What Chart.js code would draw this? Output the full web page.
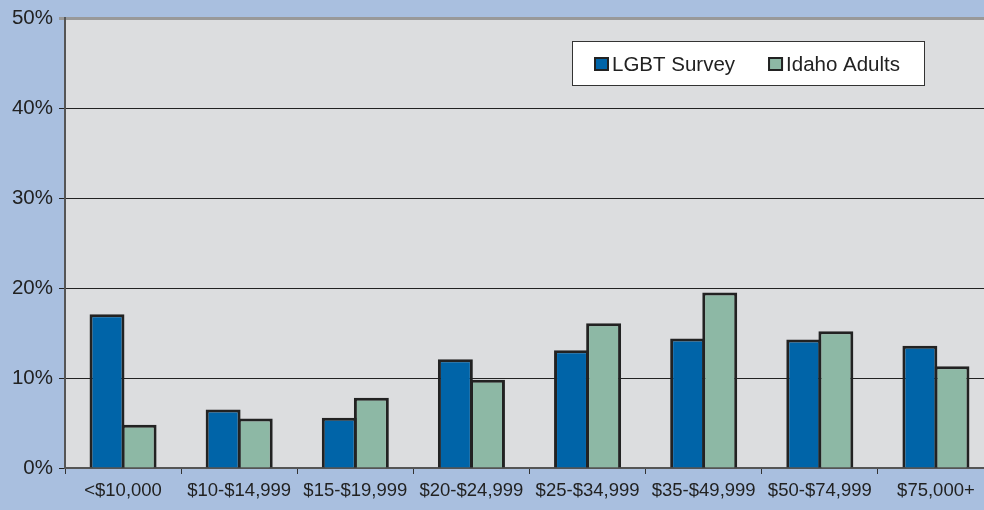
<!DOCTYPE html>
<html>
<head>
<meta charset="utf-8">
<script src="https://cdn.jsdelivr.net/npm/chart.js@4/dist/chart.umd.min.js"></script>
<style>
  html, body { margin: 0; padding: 0; background: #a9bfdf; overflow: hidden; }
  #wrap { width: 1000px; height: 510px; }
</style>
</head>
<body>
<div id="wrap"><canvas id="c" width="1000" height="510"></canvas></div>
<script>
const categories = ['<$10,000', '$10-$14,999', '$15-$19,999', '$20-$24,999', '$25-$34,999', '$35-$49,999', '$50-$74,999', '$75,000+'];
const lgbtSurvey = [17.1, 6.5, 5.6, 12.1, 13.1, 14.4, 14.3, 13.6];
const idahoAdults = [4.8, 5.5, 7.8, 9.8, 16.1, 19.5, 15.2, 11.3];
const yTicks = [0, 10, 20, 30, 40, 50];

const font = '"Liberation Sans", Arial, sans-serif';

// plot background + legend box inside the plot
const plotBg = {
    id: 'plotBg',
    beforeDraw(chart) {
        const { ctx, chartArea: a } = chart;
        ctx.save();
        ctx.fillStyle = '#dcdddf';
        ctx.fillRect(a.left, a.top, a.right - a.left, a.bottom - a.top);
        ctx.restore();
    },
    afterDraw(chart) {
        const ctx = chart.ctx;
        ctx.save();
        ctx.fillStyle = '#ffffff';
        ctx.fillRect(572, 41, 353, 45);
        ctx.strokeStyle = '#333';
        ctx.lineWidth = 1;
        ctx.strokeRect(572.5, 41.5, 352, 44);
        ctx.font = '20.5px ' + font;
        ctx.textBaseline = 'middle';
        let x = 594;
        chart.data.datasets.forEach(ds => {
            ctx.fillStyle = ds.backgroundColor;
            ctx.fillRect(x, 57, 15, 14);
            ctx.strokeStyle = '#222';
            ctx.lineWidth = 2;
            ctx.strokeRect(x + 1, 58, 13, 12);
            ctx.fillStyle = '#222';
            ctx.fillText(ds.label, x + 18, 65);
            x += 18 + ctx.measureText(ds.label).width + 33;
        });
        ctx.restore();
    }
};

new Chart(document.getElementById('c'), {
    type: 'bar',
    data: {
        labels: categories,
        datasets: [
            { label: 'LGBT Survey', data: lgbtSurvey, backgroundColor: '#0064a8', borderColor: '#222', borderWidth: 3 },
            { label: 'Idaho Adults', data: idahoAdults, backgroundColor: '#8db8a5', borderColor: '#222', borderWidth: 3 }
        ]
    },
    options: {
        responsive: false,
        animation: false,
        layout: { padding: { left: 0, top: 18, right: 6, bottom: 0 } },
        // bars overlap slightly so neighbours share one border
        datasets: { bar: { categoryPercentage: 0.553, barPercentage: 1.088 } },
        plugins: { legend: { display: false }, tooltip: { enabled: false } },
        scales: {
            x: {
                afterFit(s) { s.height = 42; },
                grid: { offset: true, drawOnChartArea: false, tickLength: 6, color: '#333', lineWidth: 1 },
                border: { color: '#555', width: 2 },
                ticks: { color: '#222', font: { family: font, size: 18.5 }, padding: 6, autoSkip: false, maxRotation: 0 }
            },
            y: {
                min: 0, max: 50,
                afterFit(s) { s.width = 65; },
                afterBuildTicks(s) { s.ticks = yTicks.map(v => ({ value: v })); },
                grid: {
                    tickLength: 6,
                    color: c => c.tick && c.tick.value === 50 ? '#999' : '#222',
                    lineWidth: c => c.tick && c.tick.value === 50 ? 3 : 1
                },
                border: { color: '#555', width: 2 },
                ticks: { color: '#222', font: { family: font, size: 20.5 }, padding: 6, callback: v => v + '%' }
            }
        }
    },
    plugins: [plotBg]
});
</script>
</body>
</html>
